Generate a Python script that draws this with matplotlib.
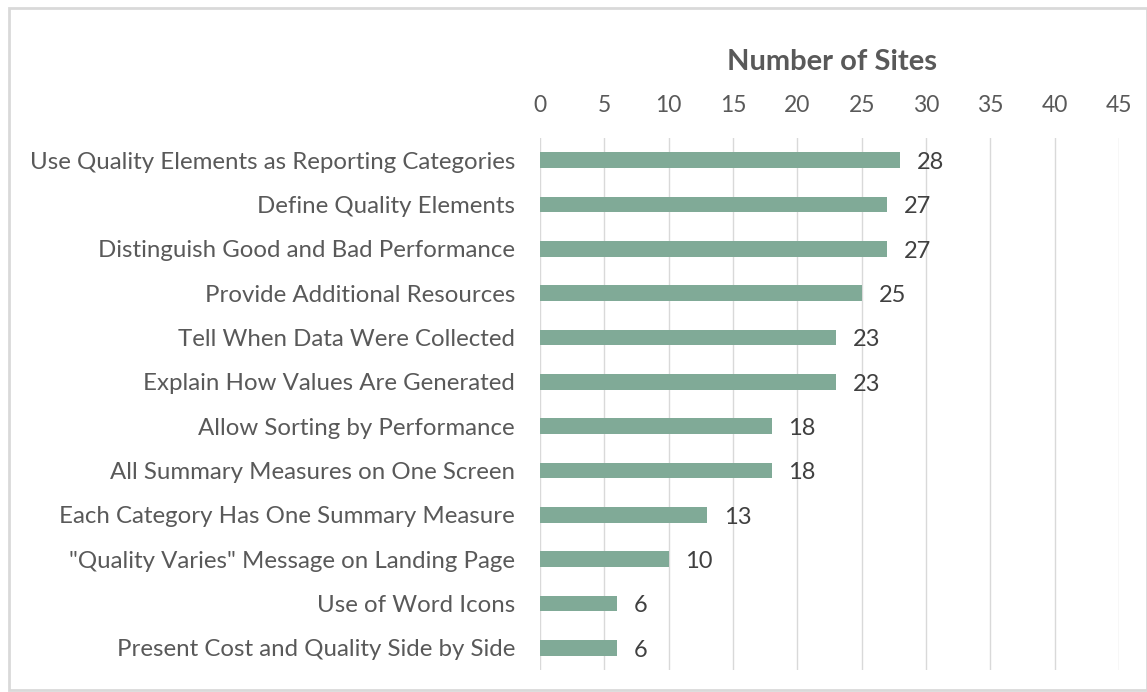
import matplotlib
matplotlib.use("Agg")
import matplotlib.pyplot as plt
import numpy as np

categories = [
    "Use Quality Elements as Reporting Categories",
    "Define Quality Elements",
    "Distinguish Good and Bad Performance",
    "Provide Additional Resources",
    "Tell When Data Were Collected",
    "Explain How Values Are Generated",
    "Allow Sorting by Performance",
    "All Summary Measures on One Screen",
    "Each Category Has One Summary Measure",
    "\"Quality Varies\" Message on Landing Page",
    "Use of Word Icons",
    "Present Cost and Quality Side by Side",
]
sites = [28, 27, 27, 25, 23, 23, 18, 18, 13, 10, 6, 6]
ticks = [0, 5, 10, 15, 20, 25, 30, 35, 40, 45]

plt.rcParams['font.family'] = ['Lato', 'DejaVu Sans']
gray = "#595959"

fig = plt.figure(figsize=(11.47, 6.92), dpi=100)
ax = fig.add_axes([0.4708, 0.0318, 0.5048, 0.7688])

y = np.arange(len(categories))
ax.barh(y, sites, height=0.36, color="#80AA97", zorder=3)
for yi, v in zip(y, sites):
    ax.text(v + 1.3, yi + 0.05, str(v), va="center", ha="left", fontsize=17, color="#404040")

ax.set_ylim(len(categories) - 0.5, -0.5)
ax.set_xlim(0, 45)
ax.set_yticks(y)
ax.set_yticklabels(categories, fontsize=17.3, color=gray)
ax.xaxis.tick_top()
ax.set_xticks(ticks)
ax.set_xticklabels([str(t) for t in ticks], fontsize=16.5, color=gray)
ax.tick_params(axis="y", length=0, pad=18)
ax.tick_params(axis="x", length=0, pad=16)
ax.grid(axis="x", color="#D9D9D9", linewidth=1, zorder=0)
for s in ax.spines.values():
    s.set_visible(False)

fig.text(0.7256, 1 - 62 / 692, "Number of Sites", ha="center", va="center",
         fontsize=21, fontweight="bold", color=gray)

border = plt.Rectangle((9 / 1147, 2 / 692), 1 - 9 / 1147, 1 - 10 / 692,
                       transform=fig.transFigure, fill=False,
                       edgecolor="#D9D9D9", linewidth=2)
fig.patches.append(border)

fig.savefig("out.png", dpi=100)
